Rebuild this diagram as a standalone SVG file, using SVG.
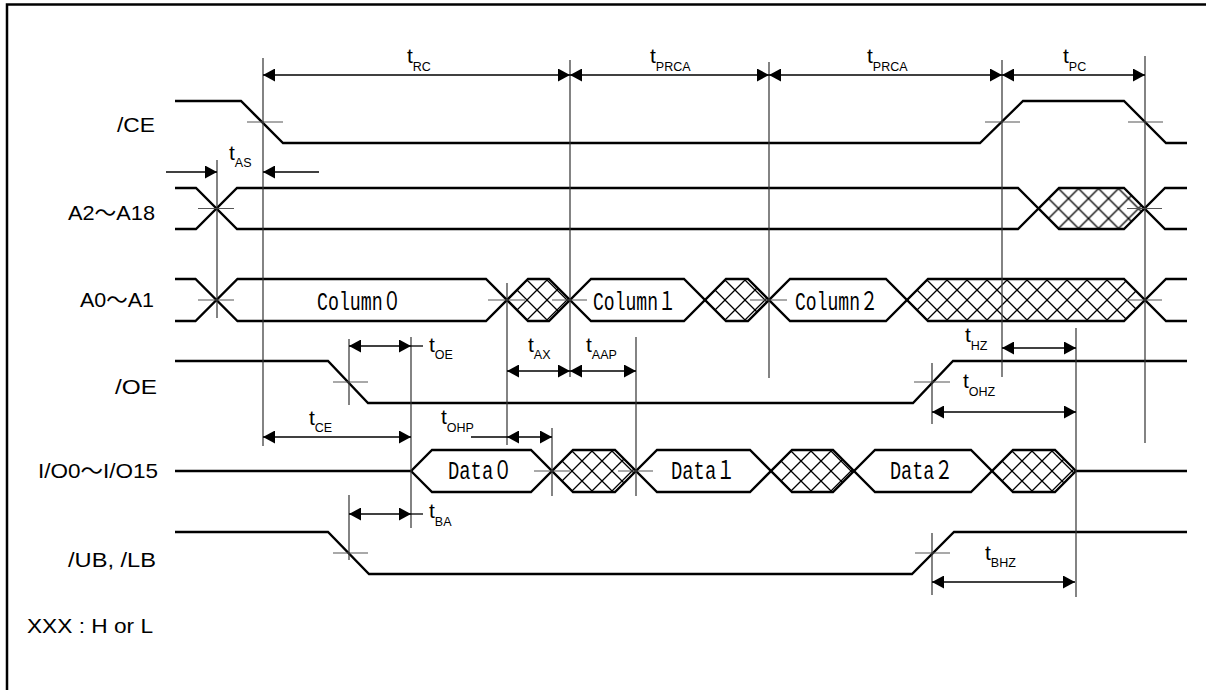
<svg xmlns="http://www.w3.org/2000/svg" xmlns:xlink="http://www.w3.org/1999/xlink" width="1206" height="690" viewBox="0 0 1206 690">
<style>
.sig{fill:none;stroke:#000;stroke-width:2.3;stroke-linejoin:miter}
.ref{stroke:#333;stroke-width:1.2}
.tick{stroke:#555;stroke-width:1.2}
.dim{stroke:#000;stroke-width:1.3;fill:none}
.lbl{font-family:"Liberation Sans","Noto Sans CJK JP",sans-serif;font-size:21px;fill:#000}
.tt{font-family:"Liberation Sans",Arial,sans-serif;font-size:21px;fill:#000}
.sub{font-size:12.5px}
.val{font-family:"Liberation Mono","Noto Sans CJK JP",monospace;font-size:25px;fill:#000}
</style>
<defs>
<marker id="ah" viewBox="0 0 12 13" refX="12" refY="6.5" markerWidth="12" markerHeight="13" markerUnits="userSpaceOnUse" orient="auto-start-reverse"><path d="M0,0L12,6.5L0,13z" fill="#000"/></marker>
<pattern id="xh" patternUnits="userSpaceOnUse" width="20" height="20"><path d="M-2,-2L22,22M22,-2L-2,22" stroke="#000" stroke-width="1.3" fill="none"/></pattern>
<pattern id="hA2" href="#xh" xlink:href="#xh" patternTransform="translate(1038.5,208.5)"/>
<pattern id="hC1" href="#xh" xlink:href="#xh" patternTransform="translate(507,300)"/>
<pattern id="hC2" href="#xh" xlink:href="#xh" patternTransform="translate(705,300)"/>
<pattern id="hC3" href="#xh" xlink:href="#xh" patternTransform="translate(907,300)"/>
<pattern id="hD1" href="#xh" xlink:href="#xh" patternTransform="translate(552,471)"/>
<pattern id="hD2" href="#xh" xlink:href="#xh" patternTransform="translate(771,471)"/>
<pattern id="hD3" href="#xh" xlink:href="#xh" patternTransform="translate(992,471)"/>
</defs>
<rect width="1206" height="690" fill="#fff"/>
<g id="frame"><path d="M7,690V4.5H1206" fill="none" stroke="#000" stroke-width="2.5"/></g>

<g id="sig-ce">
<text class="lbl" x="117" y="132" textLength="38" lengthAdjust="spacingAndGlyphs">/CE</text>
<polyline class="sig" points="175,101 241,101 283,143 980,143 1023,101 1124,101 1166,143 1187,143"/>
<path class="tick" d="M247,122H283M985,122H1020M1128,122H1163"/>
</g>

<g id="sig-a2a18">
<text class="lbl" x="68" y="220" textLength="87" lengthAdjust="spacingAndGlyphs">A2～A18</text>
<polygon points="1038.5,208.5 1059,188 1124,188 1144.5,208.5 1124,229 1059,229" fill="url(#hA2)"/>
<path class="sig" d="M175,188H196L237,229H1018L1059,188H1124L1165,229H1187"/>
<path class="sig" d="M175,229H196L237,188H1018L1059,229H1124L1165,188H1187"/>
<path class="tick" d="M198,208.5H234M1127,208.5H1162"/>
</g>

<g id="sig-a0a1">
<text class="lbl" x="80" y="307" textLength="74" lengthAdjust="spacingAndGlyphs">A0～A1</text>
<polygon points="507,300 528,279 549,279 570,300 549,321 528,321" fill="url(#hC1)"/>
<polygon points="705,300 726,279 748,279 769,300 748,321 726,321" fill="url(#hC2)"/>
<polygon points="907,300 928,279 1124,279 1145,300 1124,321 928,321" fill="url(#hC3)"/>
<path class="sig" d="M175,279H195.5L237.5,321H486L528,279H549L591,321H684L726,279H748L790,321H886L928,279H1124L1166,321H1187"/>
<path class="sig" d="M175,321H195.5L237.5,279H486L528,321H549L591,279H684L726,321H748L790,279H886L928,321H1124L1166,279H1187"/>
<path class="tick" d="M198,300H234M488,300H525M552,300H587M750,300H787M1127,300H1162"/>
<text class="val" x="317" y="310" textLength="84" lengthAdjust="spacingAndGlyphs">Column０</text>
<text class="val" x="593" y="310" textLength="83" lengthAdjust="spacingAndGlyphs">Column１</text>
<text class="val" x="795" y="310" textLength="83" lengthAdjust="spacingAndGlyphs">Column２</text>
</g>

<g id="sig-oe">
<text class="lbl" x="115" y="394" textLength="42" lengthAdjust="spacingAndGlyphs">/OE</text>
<polyline class="sig" points="175,361 328,361 368,403 913,403 953,361 1187,361"/>
<path class="tick" d="M333,382H368M914,382H950"/>
</g>

<g id="sig-io">
<text class="lbl" x="38" y="478" textLength="120" lengthAdjust="spacingAndGlyphs">I/O0～I/O15</text>
<polygon points="552,471 573,450 615,450 636,471 615,492 573,492" fill="url(#hD1)"/>
<polygon points="771,471 792,450 833,450 854,471 833,492 792,492" fill="url(#hD2)"/>
<polygon points="992,471 1013,450 1055,450 1076,471 1055,492 1013,492" fill="url(#hD3)"/>
<path class="sig" d="M175,471H411L432,450H531L573,492H615L657,450H750L792,492H833L875,450H971L1013,492H1055L1076,471H1187"/>
<path class="sig" d="M411,471L432,492H531L573,450H615L657,492H750L792,450H833L875,492H971L1013,450H1055L1076,471"/>
<path class="tick" d="M534,471H570M618,471H653"/>
<text class="val" x="448" y="479" textLength="64" lengthAdjust="spacingAndGlyphs">Data０</text>
<text class="val" x="671" y="479" textLength="64" lengthAdjust="spacingAndGlyphs">Data１</text>
<text class="val" x="890" y="479" textLength="63" lengthAdjust="spacingAndGlyphs">Data２</text>
</g>

<g id="sig-ublb">
<text class="lbl" x="68" y="567" textLength="88" lengthAdjust="spacingAndGlyphs">/UB, /LB</text>
<polyline class="sig" points="175,532 328,532 369,574 912,574 954,532 1187,532"/>
<path class="tick" d="M333,553H368M915,553H950"/>
</g>

<g id="legend">
<text class="lbl" x="27" y="633" textLength="126" lengthAdjust="spacingAndGlyphs">XXX : H or L</text>
</g>

<g id="ref-lines">
<path class="ref" d="M217,160V318M263,58V446M349,339V405M349,495V560M411,337V528M507,283V445M552,428V496M570,60V377M636,337V496M769,62V378M932,363V424M932,533V595M1002,60V377M1076,328V597M1145,56V443"/>
</g>

<g id="connectors">
<line class="dim" x1="263" y1="75" x2="570" y2="75" marker-start="url(#ah)" marker-end="url(#ah)"/>
<line class="dim" x1="570" y1="75" x2="769" y2="75" marker-start="url(#ah)" marker-end="url(#ah)"/>
<line class="dim" x1="769" y1="75" x2="1002" y2="75" marker-start="url(#ah)" marker-end="url(#ah)"/>
<line class="dim" x1="1002" y1="75" x2="1145" y2="75" marker-start="url(#ah)" marker-end="url(#ah)"/>
<line class="dim" x1="166" y1="172" x2="217" y2="172" marker-end="url(#ah)"/>
<line class="dim" x1="319" y1="172" x2="263" y2="172" marker-end="url(#ah)"/>
<line class="dim" x1="349" y1="346" x2="411" y2="346" marker-start="url(#ah)" marker-end="url(#ah)"/>
<line class="dim" x1="411" y1="346" x2="423" y2="346"/>
<line class="dim" x1="507" y1="371" x2="570" y2="371" marker-start="url(#ah)" marker-end="url(#ah)"/>
<line class="dim" x1="570" y1="371" x2="636" y2="371" marker-start="url(#ah)" marker-end="url(#ah)"/>
<line class="dim" x1="263" y1="437" x2="411" y2="437" marker-start="url(#ah)" marker-end="url(#ah)"/>
<line class="dim" x1="471" y1="437" x2="507" y2="437"/>
<line class="dim" x1="507" y1="437" x2="552" y2="437" marker-start="url(#ah)" marker-end="url(#ah)"/>
<line class="dim" x1="1002" y1="348" x2="1076" y2="348" marker-start="url(#ah)" marker-end="url(#ah)"/>
<line class="dim" x1="932" y1="412" x2="1076" y2="412" marker-start="url(#ah)" marker-end="url(#ah)"/>
<line class="dim" x1="349" y1="514" x2="411" y2="514" marker-start="url(#ah)" marker-end="url(#ah)"/>
<line class="dim" x1="411" y1="514" x2="423" y2="514"/>
<line class="dim" x1="932" y1="582" x2="1075" y2="582" marker-start="url(#ah)" marker-end="url(#ah)"/>
</g>

<g id="timing-labels">
<text class="tt" x="407" y="63">t<tspan class="sub" dy="8">RC</tspan></text>
<text class="tt" x="650" y="63">t<tspan class="sub" dy="8">PRCA</tspan></text>
<text class="tt" x="867" y="63">t<tspan class="sub" dy="8">PRCA</tspan></text>
<text class="tt" x="1063" y="63">t<tspan class="sub" dy="8">PC</tspan></text>
<text class="tt" x="229" y="160">t<tspan class="sub" dy="7">AS</tspan></text>
<text class="tt" x="429" y="352">t<tspan class="sub" dy="7">OE</tspan></text>
<text class="tt" x="528" y="352">t<tspan class="sub" dy="7">AX</tspan></text>
<text class="tt" x="586" y="352">t<tspan class="sub" dy="7">AAP</tspan></text>
<text class="tt" x="309" y="425">t<tspan class="sub" dy="7">CE</tspan></text>
<text class="tt" x="441" y="424">t<tspan class="sub" dy="8">OHP</tspan></text>
<text class="tt" x="965" y="342">t<tspan class="sub" dy="8">HZ</tspan></text>
<text class="tt" x="963" y="388">t<tspan class="sub" dy="8">OHZ</tspan></text>
<text class="tt" x="429" y="518">t<tspan class="sub" dy="8">BA</tspan></text>
<text class="tt" x="985" y="560">t<tspan class="sub" dy="7">BHZ</tspan></text>
</g>
</svg>
